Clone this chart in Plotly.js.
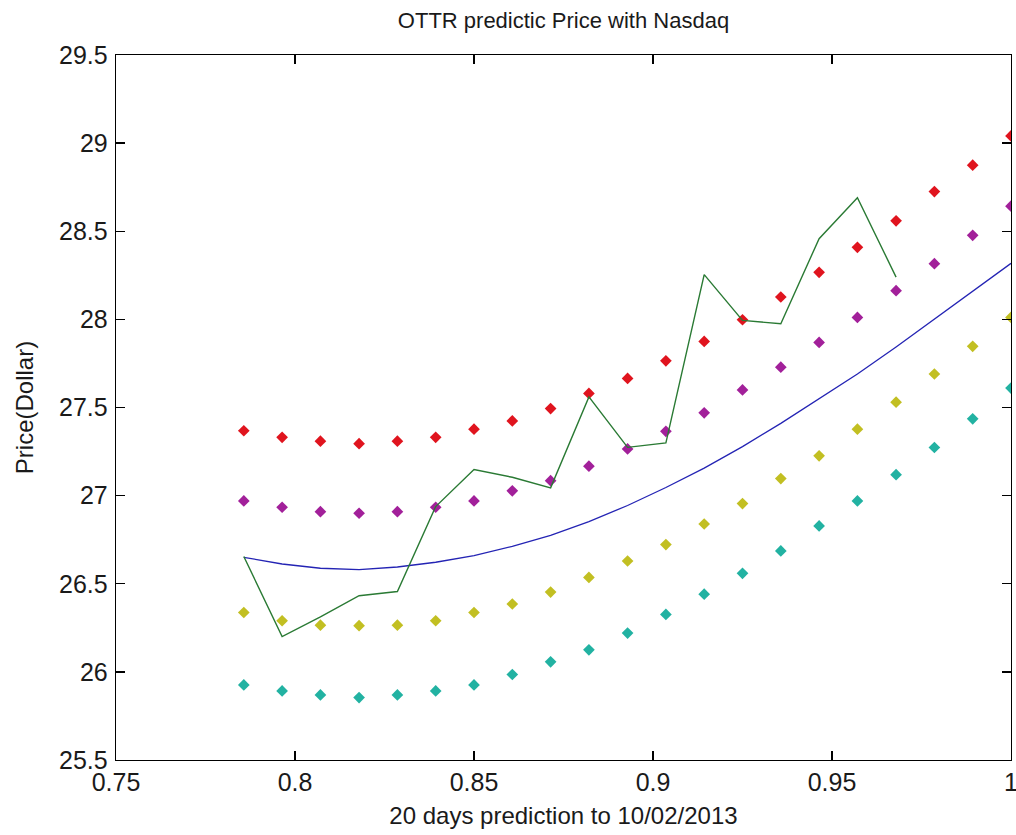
<!DOCTYPE html>
<html>
<head>
<meta charset="utf-8">
<script src="https://cdn.plot.ly/plotly-3.0.1.min.js"></script>
<style>
  html, body { margin: 0; padding: 0; background: #ffffff; }
  #chart { width: 1016px; height: 835px; }
</style>
</head>
<body>
<div id="chart"></div>
<script>
// Horizon positions (fraction of the period) for the 20-day forecast
const horizon = [0.7857, 0.7964, 0.8071, 0.8179, 0.8286, 0.8393, 0.8500,
                 0.8607, 0.8714, 0.8821, 0.8929, 0.9036, 0.9143, 0.9250,
                 0.9357, 0.9464, 0.9571, 0.9679, 0.9786, 0.9893, 1.0000];

// Fitted price curve
const fitted = [26.650, 26.612, 26.588, 26.580, 26.595, 26.622, 26.660,
                26.712, 26.774, 26.853, 26.944, 27.046, 27.156, 27.278,
                27.410, 27.548, 27.690, 27.843, 28.000, 28.160, 28.318];

// Upper and lower bands around the fit
const upperOuter = [27.368, 27.331, 27.309, 27.295, 27.309, 27.331, 27.377,
                    27.424, 27.494, 27.580, 27.665, 27.765, 27.875, 27.998,
                    28.127, 28.267, 28.409, 28.559, 28.725, 28.875, 29.041];
const upperInner = [26.970, 26.934, 26.909, 26.900, 26.909, 26.934, 26.970,
                    27.027, 27.085, 27.167, 27.265, 27.365, 27.470, 27.600,
                    27.729, 27.869, 28.011, 28.163, 28.316, 28.477, 28.642];
const lowerInner = [26.337, 26.290, 26.265, 26.262, 26.265, 26.290, 26.337,
                    26.385, 26.453, 26.536, 26.629, 26.722, 26.839, 26.955,
                    27.097, 27.226, 27.377, 27.530, 27.690, 27.847, 28.011];
const lowerOuter = [25.926, 25.892, 25.869, 25.854, 25.869, 25.892, 25.926,
                    25.985, 26.057, 26.125, 26.220, 26.326, 26.441, 26.559,
                    26.686, 26.828, 26.970, 27.119, 27.273, 27.436, 27.610];

// Observed closing prices (first 18 days)
const actual = [26.655, 26.200, 26.312, 26.432, 26.456, 26.938, 27.148,
                27.104, 27.044, 27.560, 27.274, 27.299, 28.254, 27.994,
                27.975, 28.458, 28.690, 28.240];

// Axis ticks
const xTickVals = [0.75, 0.8, 0.85, 0.9, 0.95, 1.0];
const xTickText = ["0.75", "0.8", "0.85", "0.9", "0.95", "1"];
const yTickVals = [25.5, 26, 26.5, 27, 27.5, 28, 28.5, 29, 29.5];
const yTickText = ["25.5", "26", "26.5", "27", "27.5", "28", "28.5", "29", "29.5"];

const FONT = "Liberation Sans, Arial, Helvetica, sans-serif";
const INK = "#1a1a1a";

function band(values, color) {
  return {
    x: horizon, y: values, type: "scatter", mode: "markers",
    marker: { symbol: "diamond", size: 9, color: color, line: { width: 0 } },
    hoverinfo: "x+y"
  };
}

const traces = [
  band(upperOuter, "#e0141e"),
  band(upperInner, "#a2209a"),
  band(lowerInner, "#c2bf22"),
  band(lowerOuter, "#22b2a2"),
  {
    x: horizon, y: fitted, type: "scatter", mode: "lines",
    line: { color: "#2424b4", width: 1.3 }
  },
  {
    x: horizon.slice(0, actual.length), y: actual, type: "scatter", mode: "lines",
    line: { color: "#2a7a34", width: 1.4 }
  }
];

const axisBase = {
  showline: true, linecolor: "#000000", linewidth: 1.3, mirror: "ticks",
  ticks: "inside", ticklen: 9, tickwidth: 1.3, tickcolor: "#000000",
  showgrid: false, zeroline: false, automargin: false,
  ticklabeloverflow: "allow",
  tickfont: { family: FONT, size: 25, color: INK }
};

const layout = {
  width: 1016, height: 835,
  margin: { l: 116, r: 5, t: 55, b: 75 },
  paper_bgcolor: "#ffffff", plot_bgcolor: "#ffffff",
  showlegend: false,
  title: {
    text: "OTTR predictic Price with Nasdaq",
    font: { family: FONT, size: 22, color: INK },
    x: 0.5, xref: "paper", xanchor: "center",
    y: 1 - 20 / 835, yref: "container", yanchor: "middle"
  },
  xaxis: Object.assign({}, axisBase, {
    range: [0.75, 1.0], tickmode: "array",
    tickvals: xTickVals, ticktext: xTickText,
    ticklabelstandoff: 0,
    title: { text: "20 days prediction to 10/02/2013", standoff: 12,
             font: { family: FONT, size: 24, color: INK } }
  }),
  yaxis: Object.assign({}, axisBase, {
    range: [25.5, 29.5], tickmode: "array",
    tickvals: yTickVals, ticktext: yTickText,
    ticklabelstandoff: 2,
    title: { text: "Price(Dollar)", standoff: 18,
             font: { family: FONT, size: 24, color: INK } }
  })
};

Plotly.newPlot("chart", traces, layout, { displayModeBar: false, staticPlot: true });
</script>
</body>
</html>
